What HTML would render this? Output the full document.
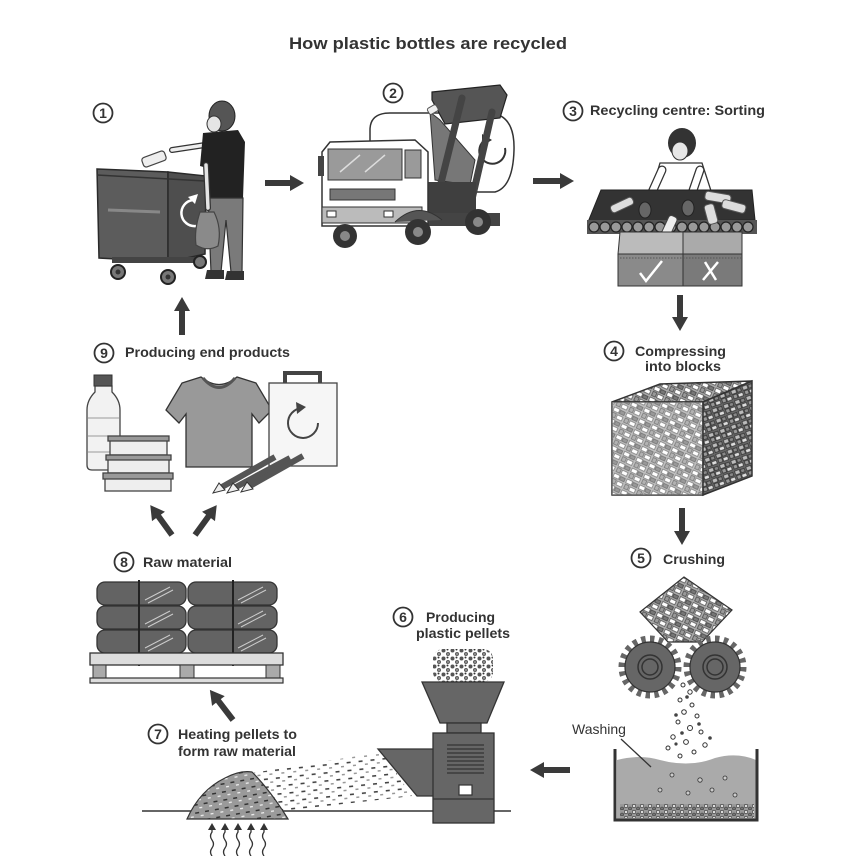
<!DOCTYPE html>
<html><head><meta charset="utf-8"><style>
html,body{margin:0;padding:0;background:#fff;}
svg{display:block;}
text{font-family:"Liberation Sans",Arial,sans-serif;fill:#333;}
.lb{font-size:14px;font-weight:bold;}
.num{font-size:14px;font-weight:bold;text-anchor:middle;}
</style></head><body>
<svg width="848" height="856" viewBox="0 0 848 856" xmlns="http://www.w3.org/2000/svg">
<defs>
<pattern id="bk" width="14" height="12" patternUnits="userSpaceOnUse" patternTransform="rotate(25)">
<rect width="14" height="12" fill="#aaa"/>
<rect x="1" y="1" width="6" height="4" fill="#fff" stroke="#333" stroke-width="0.6"/>
<rect x="8" y="1.5" width="5" height="3.5" fill="#777" stroke="#333" stroke-width="0.6"/>
<rect x="1.5" y="6.5" width="4" height="4.5" fill="#999" stroke="#333" stroke-width="0.6"/>
<rect x="7" y="7" width="6" height="4" fill="#fff" stroke="#333" stroke-width="0.6"/>
</pattern>
<pattern id="bkd" width="12" height="11" patternUnits="userSpaceOnUse" patternTransform="rotate(-20)">
<rect width="12" height="11" fill="#666"/>
<rect x="1" y="1" width="5" height="4" fill="#bbb" stroke="#222" stroke-width="0.6"/>
<rect x="7" y="1.5" width="4" height="3.5" fill="#888" stroke="#222" stroke-width="0.6"/>
<rect x="1.5" y="6" width="4" height="4" fill="#999" stroke="#222" stroke-width="0.6"/>
<rect x="6.5" y="6.5" width="5" height="3.5" fill="#ddd" stroke="#222" stroke-width="0.6"/>
</pattern>
<pattern id="ds" width="10" height="8" patternUnits="userSpaceOnUse" patternTransform="rotate(-10)">
<rect width="10" height="8" fill="#9a9a9a"/>
<rect x="1" y="2" width="4" height="1.5" fill="#333"/>
<rect x="6" y="5.5" width="3" height="1.3" fill="#eee"/>
</pattern>
<pattern id="sp" width="12" height="8" patternUnits="userSpaceOnUse" patternTransform="rotate(-6)">
<rect x="1" y="2" width="4" height="1.6" fill="#444"/>
<rect x="7" y="5.5" width="3" height="1.5" fill="#999"/>
</pattern>
<pattern id="pl" width="9" height="8" patternUnits="userSpaceOnUse">
<rect width="9" height="8" fill="#fff"/>
<circle cx="2.5" cy="2.5" r="2" fill="#555"/>
<circle cx="7" cy="6" r="1.8" fill="#888" stroke="#333" stroke-width="0.5"/>
<circle cx="6.5" cy="1.5" r="1" fill="#333"/>
</pattern>
<pattern id="sed" width="8" height="6" patternUnits="userSpaceOnUse">
<rect width="8" height="6" fill="#999"/>
<circle cx="2" cy="2" r="1.7" fill="#ddd" stroke="#333" stroke-width="0.6"/>
<circle cx="6" cy="4.5" r="1.5" fill="#777" stroke="#333" stroke-width="0.6"/>
</pattern>
<clipPath id="spc"><polygon points="240,775 382,752 412,796 292,810 265,812"/></clipPath>
</defs>

<!-- Title -->
<text x="289" y="49" font-size="17" font-weight="bold" textLength="278" lengthAdjust="spacingAndGlyphs">How plastic bottles are recycled</text>

<!-- ========== STEP 1 ========== -->
<circle cx="103" cy="113" r="9.5" fill="#fff" stroke="#333" stroke-width="1.8"/>
<text class="num" x="103" y="118">1</text>
<!-- bin -->
<polygon points="97,169 168,172 168,262 99,258" fill="#5c5c5c" stroke="#2a2a2a" stroke-width="1.5"/>
<polygon points="168,172 206,176 205,254 168,262" fill="#4e4e4e" stroke="#2a2a2a" stroke-width="1.5"/>
<line x1="97" y1="175" x2="205" y2="181" stroke="#333" stroke-width="1.5"/>
<path d="M108,210 L160,212" stroke="#888" stroke-width="3"/>
<rect x="112" y="257" width="88" height="6" fill="#444"/>
<path d="M193,200 A12,12 0 1 0 196,226" fill="none" stroke="#fff" stroke-width="2.5"/>
<polygon points="188,197 198,194 195,204" fill="#fff"/>
<circle cx="118" cy="272" r="7" fill="#777" stroke="#222" stroke-width="2"/><circle cx="118" cy="272" r="2.5" fill="#333"/>
<circle cx="168" cy="277" r="7" fill="#777" stroke="#222" stroke-width="2"/><circle cx="168" cy="277" r="2.5" fill="#333"/>
<circle cx="200" cy="262" r="6" fill="#777" stroke="#222" stroke-width="2"/>
<!-- person -->
<path d="M205,145 L172,150" stroke="#333" stroke-width="6" stroke-linecap="round"/>
<path d="M205,145 L172,150" stroke="#eee" stroke-width="3.5" stroke-linecap="round"/>
<rect x="142" y="154" width="24" height="10" rx="3" fill="#eee" stroke="#444" stroke-width="1.2" transform="rotate(-20 154 159)"/>
<polygon points="203,133 238,130 245,142 243,198 208,198 207,168 200,166" fill="#222"/>
<ellipse cx="222" cy="116" rx="13" ry="15" fill="#555" stroke="#222"/>
<ellipse cx="214" cy="124" rx="7" ry="8" fill="#e5e5e5" stroke="#333"/>
<polygon points="208,198 243,198 242,272 231,272 226,220 221,272 211,272" fill="#7a7a7a" stroke="#333" stroke-width="1.2"/>
<path d="M207,270 h17 v9 h-19 z M227,271 h17 v9 h-19z" fill="#333"/>
<path d="M206,165 L208,208" stroke="#333" stroke-width="6" stroke-linecap="round"/>
<path d="M206,165 L208,208" stroke="#e5e5e5" stroke-width="3.5" stroke-linecap="round"/>
<path d="M200,212 Q194,230 196,245 Q207,252 218,246 Q222,228 214,212 Z" fill="#8a8a8a" stroke="#444" stroke-width="1.2"/>

<!-- arrow 1->2 -->
<polygon points="265,180 290,180 290,175 304,183 290,191 290,186 265,186" fill="#3a3a3a"/>

<!-- ========== STEP 2 (truck) ========== -->
<circle cx="393" cy="93" r="9.5" fill="#fff" stroke="#333" stroke-width="1.8"/>
<text class="num" x="393" y="98">2</text>
<path d="M370,192 V130 Q370,113 390,113 H490 Q515,115 514,150 Q513,187 495,192 Z" fill="#fff" stroke="#333" stroke-width="1.5"/>
<path d="M505,148 A13,13 0 1 1 485,140" fill="none" stroke="#333" stroke-width="2"/>
<polygon points="482,134 492,140 482,146" fill="#333"/>
<polygon points="432,92 500,85 507,95 500,118 445,124 432,100" fill="#555" stroke="#222" stroke-width="1.2"/>
<polygon points="430,112 440,120 475,160 470,185 435,180" fill="#777" stroke="#333"/>
<rect x="428" y="106" width="10" height="7" rx="2" fill="#eee" stroke="#555" transform="rotate(-30 433 110)"/>
<path d="M462,98 L438,195 M492,112 L470,208" stroke="#444" stroke-width="7" stroke-linecap="round"/>
<rect x="428" y="182" width="48" height="35" fill="#3f3f3f"/>
<rect x="330" y="213" width="170" height="13" fill="#444"/>
<path d="M322,152 L330,142 L415,140 L428,152 L428,226 L322,226 Z" fill="#fff" stroke="#333" stroke-width="1.5"/>
<rect x="328" y="149" width="74" height="31" fill="#9a9a9a" stroke="#333"/>
<path d="M340,172 L360,155 M365,172 L385,155" stroke="#ddd" stroke-width="1.5"/>
<rect x="405" y="150" width="16" height="28" fill="#9a9a9a" stroke="#333"/>
<rect x="318" y="156" width="6" height="20" fill="#444"/>
<rect x="330" y="189" width="65" height="11" fill="#777" stroke="#333"/>
<rect x="322" y="207" width="100" height="16" fill="#bbb" stroke="#333"/>
<rect x="327" y="211" width="9" height="6" fill="#fff" stroke="#333"/>
<rect x="384" y="211" width="9" height="6" fill="#fff" stroke="#333"/>
<path d="M395,222 Q418,200 442,220" fill="#555" stroke="#333"/>
<circle cx="345" cy="236" r="12" fill="#333"/><circle cx="345" cy="236" r="5" fill="#888"/>
<circle cx="418" cy="232" r="13" fill="#333"/><circle cx="418" cy="232" r="5" fill="#888"/>
<circle cx="478" cy="222" r="13" fill="#333"/><circle cx="478" cy="222" r="5" fill="#888"/>

<!-- arrow 2->3 -->
<polygon points="533,178 560,178 560,173 574,181 560,189 560,184 533,184" fill="#3a3a3a"/>

<!-- ========== STEP 3 ========== -->
<circle cx="573" cy="111" r="9.5" fill="#fff" stroke="#333" stroke-width="1.8"/>
<text class="num" x="573" y="116">3</text>
<text class="lb" x="590" y="115" textLength="175" lengthAdjust="spacingAndGlyphs">Recycling centre: Sorting</text>
<!-- woman -->
<polygon points="660,163 702,163 714,200 648,203" fill="#fff" stroke="#333" stroke-width="1.3"/>
<path d="M662,170 L645,208 M700,170 L688,205" stroke="#333" stroke-width="9" stroke-linecap="round"/>
<path d="M662,170 L645,208 M700,170 L688,205" stroke="#fff" stroke-width="6.5" stroke-linecap="round"/>
<ellipse cx="682" cy="143" rx="14" ry="15" fill="#333"/>
<ellipse cx="680" cy="151" rx="8" ry="9" fill="#e6e6e6" stroke="#333"/>
<!-- conveyor -->
<polygon points="601,190 752,190 755,220 588,222" fill="#333" stroke="#222"/>
<rect x="587" y="220" width="170" height="14" fill="#555"/>
<g fill="#999" stroke="#222" stroke-width="1.2">
<circle cx="594" cy="227" r="5"/><circle cx="605" cy="227" r="5"/><circle cx="616" cy="227" r="5"/><circle cx="627" cy="227" r="5"/><circle cx="638" cy="227" r="5"/><circle cx="649" cy="227" r="5"/><circle cx="660" cy="227" r="5"/><circle cx="671" cy="227" r="5"/><circle cx="682" cy="227" r="5"/><circle cx="693" cy="227" r="5"/><circle cx="704" cy="227" r="5"/><circle cx="715" cy="227" r="5"/><circle cx="726" cy="227" r="5"/><circle cx="737" cy="227" r="5"/><circle cx="748" cy="227" r="5"/>
</g>
<g fill="#ddd" stroke="#555" stroke-width="1">
<rect x="610" y="201" width="24" height="8" rx="3" transform="rotate(-25 622 205)"/>
<rect x="705" y="193" width="26" height="9" rx="3" transform="rotate(10 718 197)"/>
<rect x="722" y="202" width="24" height="9" rx="3" transform="rotate(15 734 206)"/>
<rect x="706" y="204" width="10" height="20" rx="3" transform="rotate(-15 711 214)"/>
</g>
<ellipse cx="645" cy="210" rx="6" ry="8" fill="#666" stroke="#222"/>
<ellipse cx="688" cy="208" rx="6" ry="8" fill="#666" stroke="#222"/>
<rect x="664" y="215" width="9" height="26" rx="3" fill="#eee" stroke="#444" transform="rotate(25 668 228)"/>
<!-- boxes -->
<polygon points="620,232 683,232 683,254 618,254" fill="#bbb" stroke="#333"/>
<polygon points="683,232 742,232 742,254 683,254" fill="#aaa" stroke="#333"/>
<rect x="618" y="254" width="65" height="32" fill="#8a8a8a" stroke="#333"/>
<rect x="683" y="254" width="59" height="32" fill="#7a7a7a" stroke="#333"/>
<path d="M620,258 H741" stroke="#555" stroke-dasharray="1.5 1.5"/>
<path d="M640,273 L646,281 L662,261" fill="none" stroke="#fff" stroke-width="2.5"/>
<path d="M705,262 L716,280 M718,262 L703,280" stroke="#fff" stroke-width="2.5"/>

<!-- arrow 3->4 -->
<polygon points="677,295 677,317 672,317 680,331 688,317 683,317 683,295" fill="#3a3a3a"/>

<!-- ========== STEP 4 ========== -->
<circle cx="614" cy="351" r="9.5" fill="#fff" stroke="#333" stroke-width="1.8"/>
<text class="num" x="614" y="356">4</text>
<text class="lb" x="635" y="356" textLength="91" lengthAdjust="spacingAndGlyphs">Compressing</text>
<text class="lb" x="645" y="371" textLength="76" lengthAdjust="spacingAndGlyphs">into blocks</text>
<polygon points="612,402 660,384 752,381 703,402" fill="url(#bk)" stroke="#333" stroke-width="1.5"/>
<rect x="612" y="402" width="91" height="93" fill="url(#bk)" stroke="#333" stroke-width="1.5"/>
<rect x="612" y="402" width="91" height="93" fill="#fff" opacity="0.25"/>
<polygon points="703,402 752,381 752,476 703,495" fill="url(#bkd)" stroke="#333" stroke-width="1.5"/>

<!-- arrow 4->5 -->
<polygon points="679,508 679,531 674,531 682,545 690,531 685,531 685,508" fill="#3a3a3a"/>

<!-- ========== STEP 5 ========== -->
<circle cx="641" cy="558" r="9.5" fill="#fff" stroke="#333" stroke-width="1.8"/>
<text class="num" x="641" y="563">5</text>
<text class="lb" x="663" y="564" textLength="62" lengthAdjust="spacingAndGlyphs">Crushing</text>
<polygon points="640,612 684,577 732,610 702,642 668,642" fill="url(#bk)" stroke="#333" stroke-width="1.2"/>
<g>
<circle cx="650" cy="667" r="28" fill="none" stroke="#666" stroke-width="7" pathLength="40" stroke-dasharray="1 1"/>
<circle cx="650" cy="667" r="25" fill="#666" stroke="#333" stroke-width="1.2"/>
<circle cx="650" cy="667" r="12" fill="none" stroke="#333" stroke-width="1.5"/>
<circle cx="650" cy="667" r="8" fill="none" stroke="#333" stroke-width="1.5"/>
<circle cx="715" cy="667" r="28" fill="none" stroke="#666" stroke-width="7" pathLength="40" stroke-dasharray="1 1"/>
<circle cx="715" cy="667" r="25" fill="#666" stroke="#333" stroke-width="1.2"/>
<circle cx="715" cy="667" r="12" fill="none" stroke="#333" stroke-width="1.5"/>
<circle cx="715" cy="667" r="8" fill="none" stroke="#333" stroke-width="1.5"/>
</g>
<g fill="#fff" stroke="#333" stroke-width="1">
<circle cx="683" cy="685" r="2"/><circle cx="690" cy="692" r="2.2"/><circle cx="680" cy="700" r="2"/><circle cx="692" cy="705" r="2"/><circle cx="684" cy="712" r="2.3"/><circle cx="697" cy="716" r="2"/><circle cx="678" cy="722" r="2"/><circle cx="690" cy="728" r="2.5"/><circle cx="701" cy="732" r="2"/><circle cx="673" cy="737" r="2.2"/><circle cx="686" cy="742" r="2.4"/><circle cx="705" cy="745" r="2.2"/><circle cx="668" cy="748" r="2"/><circle cx="694" cy="752" r="2"/><circle cx="680" cy="756" r="2"/>
</g>
<g fill="#444">
<circle cx="687" cy="697" r="1.8"/><circle cx="676" cy="715" r="1.8"/><circle cx="699" cy="724" r="1.8"/><circle cx="682" cy="733" r="1.8"/><circle cx="710" cy="738" r="1.8"/><circle cx="676" cy="744" r="1.6"/>
</g>
<text x="572" y="734" font-size="14">Washing</text>
<path d="M617,760 Q640,754 660,760 Q690,768 715,758 Q737,752 756,760 L756,819 L617,819 Z" fill="#aaa"/>
<rect x="620" y="804" width="134" height="14" fill="url(#sed)"/>
<line x1="621" y1="739" x2="651" y2="767" stroke="#333" stroke-width="1.3"/>
<g fill="#ccc" stroke="#333" stroke-width="0.8">
<circle cx="672" cy="775" r="2"/><circle cx="700" cy="780" r="2.2"/><circle cx="725" cy="778" r="2"/><circle cx="688" cy="793" r="2"/><circle cx="712" cy="790" r="2"/><circle cx="660" cy="790" r="2"/><circle cx="735" cy="795" r="2"/>
</g>
<path d="M615,749 V820 H757 V749" fill="none" stroke="#333" stroke-width="3"/>

<!-- arrow 5->6 -->
<polygon points="570,767 544,767 544,762 530,770 544,778 544,773 570,773" fill="#3a3a3a"/>

<!-- ========== STEP 6 ========== -->
<circle cx="403" cy="617" r="9.5" fill="#fff" stroke="#333" stroke-width="1.8"/>
<text class="num" x="403" y="622">6</text>
<text class="lb" x="426" y="622" textLength="69" lengthAdjust="spacingAndGlyphs">Producing</text>
<text class="lb" x="416" y="638" textLength="94" lengthAdjust="spacingAndGlyphs">plastic pellets</text>
<rect x="433" y="649" width="60" height="33" rx="10" fill="url(#pl)"/>
<polygon points="422,682 504,682 487,723 440,723" fill="#666" stroke="#333" stroke-width="1.3"/>
<rect x="447" y="723" width="34" height="10" fill="#666" stroke="#333" stroke-width="1.3"/>
<!-- spray and pile -->
<rect x="230" y="745" width="190" height="70" fill="url(#sp)" clip-path="url(#spc)"/>
<line x1="142" y1="811" x2="511" y2="811" stroke="#333" stroke-width="1.5"/>
<polygon points="378,749 434,749 434,796 417,796" fill="#666" stroke="#333" stroke-width="1.3"/>
<rect x="433" y="733" width="61" height="90" fill="#666" stroke="#333" stroke-width="1.3"/>
<line x1="433" y1="799" x2="494" y2="799" stroke="#333" stroke-width="1.3"/>
<g stroke="#333" stroke-width="1.2">
<line x1="447" y1="745" x2="484" y2="745"/><line x1="447" y1="749" x2="484" y2="749"/><line x1="447" y1="753" x2="484" y2="753"/><line x1="447" y1="757" x2="484" y2="757"/><line x1="447" y1="761" x2="484" y2="761"/><line x1="447" y1="765" x2="484" y2="765"/><line x1="447" y1="769" x2="484" y2="769"/><line x1="447" y1="773" x2="484" y2="773"/>
</g>
<rect x="459" y="785" width="13" height="10" fill="#fff" stroke="#333" stroke-width="1.2"/>

<!-- ========== STEP 7 ========== -->
<circle cx="158" cy="734" r="9.5" fill="#fff" stroke="#333" stroke-width="1.8"/>
<text class="num" x="158" y="739">7</text>
<text class="lb" x="178" y="739" textLength="119" lengthAdjust="spacingAndGlyphs">Heating pellets to</text>
<text class="lb" x="178" y="756" textLength="118" lengthAdjust="spacingAndGlyphs">form raw material</text>
<path d="M187,819 Q200,790 225,778 Q240,770 252,772 Q270,790 288,819 Z" fill="url(#ds)" stroke="#333" stroke-width="1.2"/>
<g fill="none" stroke="#333" stroke-width="1.3">
<path d="M212,856 q-3,-4 0,-8 q3,-4 0,-8 q-3,-4 0,-8 v-4"/>
<path d="M225,856 q-3,-4 0,-8 q3,-4 0,-8 q-3,-4 0,-8 v-4"/>
<path d="M238,856 q-3,-4 0,-8 q3,-4 0,-8 q-3,-4 0,-8 v-4"/>
<path d="M251,856 q-3,-4 0,-8 q3,-4 0,-8 q-3,-4 0,-8 v-4"/>
<path d="M264,856 q-3,-4 0,-8 q3,-4 0,-8 q-3,-4 0,-8 v-4"/>
</g>
<g fill="#333">
<polygon points="208,830 212,823 216,830"/><polygon points="221,830 225,823 229,830"/><polygon points="234,830 238,823 242,830"/><polygon points="247,830 251,823 255,830"/><polygon points="260,830 264,823 268,830"/>
</g>

<!-- arrow 7->8 -->
<g transform="translate(233,720) rotate(-127.5)">
<polygon points="0,-3 24,-3 24,-8 38,0 24,8 24,3 0,3" fill="#3a3a3a"/>
</g>

<!-- ========== STEP 8 ========== -->
<circle cx="124" cy="562" r="9.5" fill="#fff" stroke="#333" stroke-width="1.8"/>
<text class="num" x="124" y="567">8</text>
<text class="lb" x="143" y="567" textLength="89" lengthAdjust="spacingAndGlyphs">Raw material</text>
<g fill="#636363" stroke="#333" stroke-width="1.3">
<rect x="97" y="582" width="89" height="23" rx="8"/><rect x="188" y="582" width="89" height="23" rx="8"/>
<rect x="97" y="606" width="89" height="23" rx="8"/><rect x="188" y="606" width="89" height="23" rx="8"/>
<rect x="97" y="630" width="89" height="23" rx="8"/><rect x="188" y="630" width="89" height="23" rx="8"/>
</g>
<g stroke="#ccc" stroke-width="1">
<path d="M145,600 L170,587 M148,603 L173,590"/><path d="M238,600 L263,587 M241,603 L266,590"/>
<path d="M145,624 L170,611 M148,627 L173,614"/><path d="M238,624 L263,611 M241,627 L266,614"/>
<path d="M145,648 L170,635 M148,651 L173,638"/><path d="M238,648 L263,635 M241,651 L266,638"/>
</g>
<path d="M139,580 V666 M233,580 V666" stroke="#222" stroke-width="2"/>
<rect x="90" y="653" width="193" height="12" fill="#ddd" stroke="#333" stroke-width="1.3"/>
<rect x="93" y="665" width="13" height="13" fill="#aaa" stroke="#333"/>
<rect x="180" y="665" width="14" height="13" fill="#aaa" stroke="#333"/>
<rect x="266" y="665" width="14" height="13" fill="#aaa" stroke="#333"/>
<rect x="90" y="678" width="193" height="5" fill="#ddd" stroke="#333" stroke-width="1.2"/>

<!-- arrows 8->9 -->
<g transform="translate(172,535) rotate(-126)">
<polygon points="0,-3 23,-3 23,-8 37,0 23,8 23,3 0,3" fill="#3a3a3a"/>
</g>
<g transform="translate(195,535) rotate(-54)">
<polygon points="0,-3 23,-3 23,-8 37,0 23,8 23,3 0,3" fill="#3a3a3a"/>
</g>

<!-- ========== STEP 9 ========== -->
<circle cx="104" cy="353" r="9.5" fill="#fff" stroke="#333" stroke-width="1.8"/>
<text class="num" x="104" y="358">9</text>
<text class="lb" x="125" y="357" textLength="165" lengthAdjust="spacingAndGlyphs">Producing end products</text>
<!-- bottle -->
<path d="M95,386 H112 V392 Q120,400 120,410 V465 Q120,470 115,470 H92 Q87,470 87,465 V410 Q87,400 95,392 Z" fill="#f2f2f2" stroke="#444" stroke-width="1.3"/>
<rect x="94" y="375" width="18" height="11" fill="#555" stroke="#333"/>
<path d="M88,418 H119 M88,436 H119 M88,452 H119" stroke="#999"/>
<!-- containers -->
<g stroke="#444" stroke-width="1.3">
<rect x="110" y="440" width="57" height="15" fill="#eee"/><rect x="108" y="436" width="61" height="5" fill="#999"/>
<rect x="108" y="459" width="61" height="14" fill="#eee"/><rect x="106" y="455" width="65" height="5" fill="#999"/>
<rect x="105" y="478" width="66" height="13" fill="#eee"/><rect x="103" y="473" width="70" height="6" fill="#999"/>
</g>
<!-- t-shirt -->
<path d="M201,377 L182,383 L166,410 L179,423 L186,414 L186,467 L252,467 L252,414 L259,423 L272,410 L256,383 L237,377 Q219,392 201,377 Z" fill="#999" stroke="#333" stroke-width="1.3"/>
<path d="M203,378 Q219,397 235,378" fill="none" stroke="#555" stroke-width="3"/>
<!-- bag -->
<path d="M285,384 V373 H320 V384" fill="none" stroke="#444" stroke-width="4"/>
<rect x="269" y="383" width="68" height="83" fill="#f6f6f6" stroke="#444" stroke-width="1.3"/>
<path d="M318,423 A15,15 0 1 1 302,408" fill="none" stroke="#444" stroke-width="2"/>
<polygon points="296,402 306,407 297,414" fill="#444"/>
<!-- pencils -->
<g stroke-linecap="butt">
<path d="M222,487 L275,457" stroke="#555" stroke-width="6"/>
<path d="M236,487 L290,458" stroke="#555" stroke-width="6"/>
<path d="M250,486 L303,456" stroke="#555" stroke-width="6"/>
</g>
<g fill="#eee" stroke="#333" stroke-width="1">
<polygon points="213,493 219,483 225,490"/>
<polygon points="227,493 233,483 239,490"/>
<polygon points="241,492 247,482 253,489"/>
</g>

<!-- arrow 9->1 -->
<polygon points="179,335 179,311 174,311 182,297 190,311 185,311 185,335" fill="#3a3a3a"/>
</svg>
</body></html>
